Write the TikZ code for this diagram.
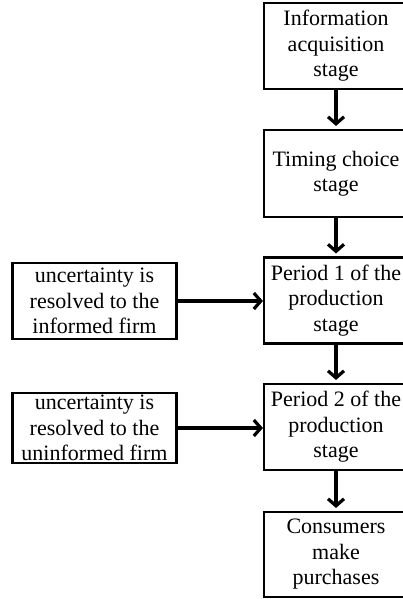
\documentclass[tikz,border=0pt]{standalone}
\usepackage{fontspec}
\setmainfont{Liberation Serif}
\usetikzlibrary{arrows.meta}

\begin{document}
\begin{tikzpicture}[x=1pt, y=-1pt,
  stage/.style={draw=black, line width=2.1pt, minimum width=144pt, minimum height=86pt,
    inner sep=0pt, align=center, font=\fontsize{22}{25.5}\selectfont},
  info/.style={stage, minimum width=164pt},
  flow/.style={line width=3.2pt, -{Straight Barb[length=7pt, width=16pt]}}]

\useasboundingbox (0,0) rectangle (403,599);
\clip (0,0) rectangle (403,599);

% stages on the right
\node[stage] (acq) at (336,46) {Information\\acquisition\\stage};
\node[stage, minimum height=87pt] (timing) at (336,173.5) {Timing choice\\stage};
\node[stage] (per1) at (336,300.5) {Period 1 of the\\production\\stage};
\node[stage] (per2) at (336,427) {Period 2 of the\\production\\stage};
\node[stage, minimum height=85pt] (cons) at (336,554.5) {Consumers\\make\\purchases};

% information boxes on the left
\node[info, minimum height=76pt] (res1) at (94.5,301) {uncertainty is\\resolved to the\\informed firm};
\node[info, minimum height=70pt] (res2) at (94.5,428) {uncertainty is\\resolved to the\\uninformed firm};

\draw[flow, shorten >=3pt] (acq) -- (timing);
\draw[flow, shorten >=3pt] (timing) -- (per1);
\draw[flow, shorten >=3pt] (per1) -- (per2);
\draw[flow, shorten >=3pt] (per2) -- (cons);
\draw[flow] (res1.east) -- (res1.east -| per1.west);
\draw[flow] (res2.east) -- (res2.east -| per2.west);

\end{tikzpicture}
\end{document}
